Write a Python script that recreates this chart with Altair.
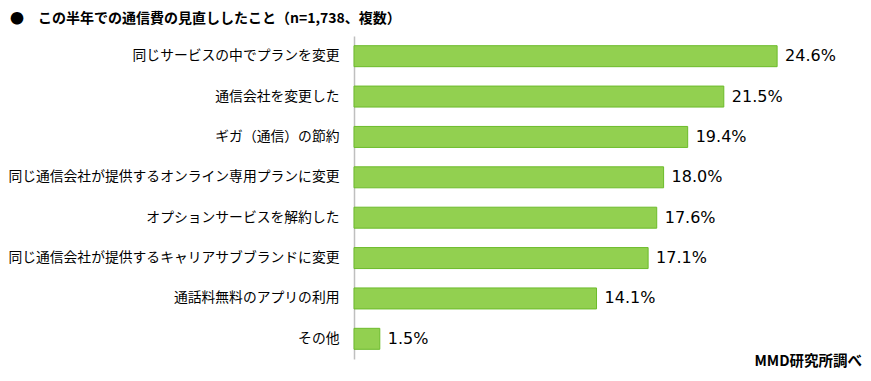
import altair as alt
import pandas as pd

categories = [
    "同じサービスの中でプランを変更",
    "通信会社を変更した",
    "ギガ（通信）の節約",
    "同じ通信会社が提供するオンライン専用プランに変更",
    "オプションサービスを解約した",
    "同じ通信会社が提供するキャリアサブブランドに変更",
    "通話料無料のアプリの利用",
    "その他",
]
values = [24.6, 21.5, 19.4, 18.0, 17.6, 17.1, 14.1, 1.5]
labels = [f"{v:.1f}%" for v in values]

df = pd.DataFrame({"cat": categories, "val": values, "lab": labels})

W = 490
H = 323
FONT = "Noto Sans CJK JP"

y = alt.Y("cat:N", sort=categories,
          scale=alt.Scale(paddingInner=0.48, paddingOuter=0.24),
          axis=alt.Axis(title=None, ticks=False, labelFontSize=13.8, labelFont=FONT,
                        labelColor="#000000", labelPadding=15, domainColor="#BFBFBF",
                        domainWidth=1.5, labelLimit=400))
x = alt.X("val:Q", scale=alt.Scale(domain=[0, W / 17.2]), axis=None)

bars = alt.Chart(df).mark_bar(color="#92D050", stroke="#6CBB2A", strokeWidth=1).encode(x=x, y=y)
text = alt.Chart(df).mark_text(align="left", baseline="middle", dx=8, fontSize=16,
                               font="DejaVu Sans", color="#000000").encode(x=x, y=y, text="lab:N")
note = alt.Chart(pd.DataFrame({"t": ["MMD研究所調べ"]})).mark_text(
    align="right", baseline="middle", fontSize=14.5, fontWeight="bold", font=FONT, color="#000000"
).encode(x=alt.value(508), y=alt.value(326), text="t:N")

chart = alt.layer(bars, text, note).properties(
    width=W, height=H,
    autosize=alt.AutoSizeParams(type="none"),
    padding={"left": 346, "top": 28, "right": 19, "bottom": 14},
    title=alt.TitleParams("●\u2003この半年での通信費の見直ししたこと（n=1,738、複数）",
                          anchor="start", frame="group", dx=-344, offset=10, fontSize=14,
                          font=FONT, fontWeight="bold", color="#000000"),
).configure_view(stroke=None)

chart.save("out.html", embed_options={"renderer": "svg", "actions": False})
